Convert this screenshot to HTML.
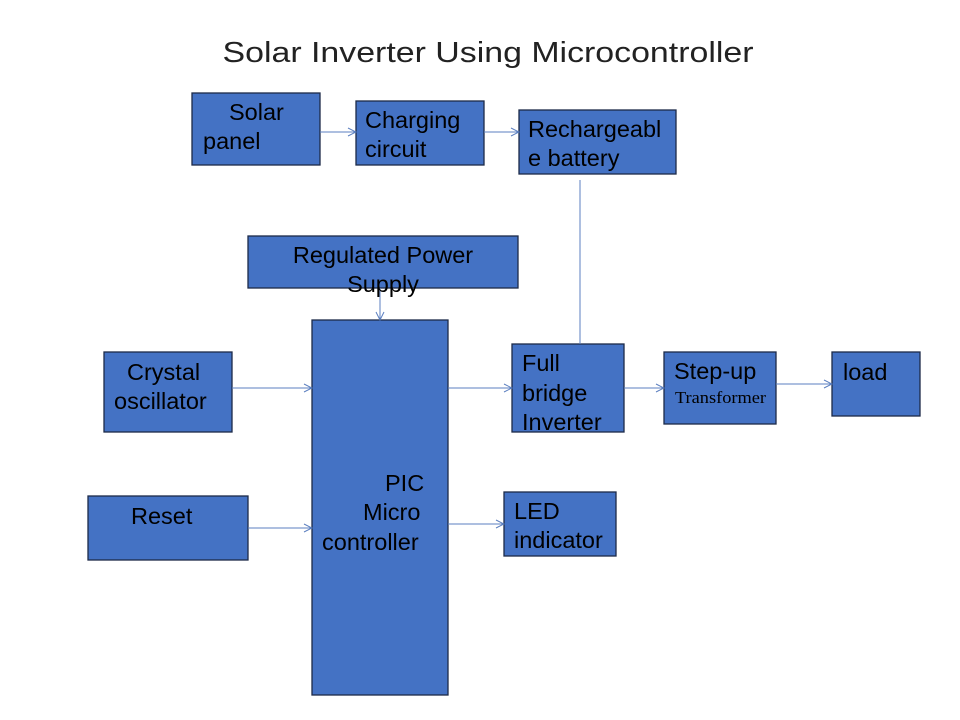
<!DOCTYPE html>
<html><head><meta charset="utf-8"><style>
html,body{margin:0;padding:0;background:#fff}
svg{display:block}
text{font-family:"Liberation Sans",sans-serif;font-size:23.5px;fill:#000}
</style></head><body>
<svg width="960" height="720" viewBox="0 0 960 720" xmlns="http://www.w3.org/2000/svg">
<defs><marker id="a" markerWidth="10" markerHeight="10" refX="9" refY="5" orient="auto" markerUnits="userSpaceOnUse">
<path d="M1,1 L9,5 L1,9" fill="none" stroke="#5b7fc0" stroke-width="1"/></marker></defs>
<text x="488" y="62" text-anchor="middle" style="font-size:29px;fill:#222" textLength="531" lengthAdjust="spacingAndGlyphs">Solar Inverter Using Microcontroller</text>
<g fill="#4472C4" stroke="#1c2a48" stroke-width="1.3">
<rect x="192" y="93" width="128" height="72"/>
<rect x="356" y="101" width="128" height="64"/>
<rect x="519" y="110" width="157" height="64"/>
<rect x="248" y="236" width="270" height="52"/>
<rect x="312" y="320" width="136" height="375"/>
<rect x="104" y="352" width="128" height="80"/>
<rect x="88" y="496" width="160" height="64"/>
<rect x="512" y="344" width="112" height="88"/>
<rect x="664" y="352" width="112" height="72"/>
<rect x="832" y="352" width="88" height="64"/>
<rect x="504" y="492" width="112" height="64"/>
</g>
<g stroke="#5b7fc0" stroke-width="1" fill="none">
<line x1="320" y1="132" x2="356" y2="132" marker-end="url(#a)"/>
<line x1="484" y1="132" x2="519" y2="132" marker-end="url(#a)"/>
<line x1="580" y1="180" x2="580" y2="344"/>
<line x1="380" y1="288" x2="380" y2="320" marker-end="url(#a)"/>
<line x1="232" y1="388" x2="312" y2="388" marker-end="url(#a)"/>
<line x1="248" y1="528" x2="312" y2="528" marker-end="url(#a)"/>
<line x1="448" y1="388" x2="512" y2="388" marker-end="url(#a)"/>
<line x1="624" y1="388" x2="664" y2="388" marker-end="url(#a)"/>
<line x1="776" y1="384" x2="832" y2="384" marker-end="url(#a)"/>
<line x1="448" y1="524" x2="504" y2="524" marker-end="url(#a)"/>
</g>
<text x="229" y="120">Solar</text><text x="203" y="149">panel</text>
<text x="365" y="128">Charging</text><text x="365" y="157">circuit</text>
<text x="528" y="137">Rechargeabl</text><text x="528" y="166">e battery</text>
<text x="383" y="263" text-anchor="middle">Regulated Power</text><text x="383" y="292" text-anchor="middle">Supply</text>
<text x="385" y="491">PIC</text><text x="363" y="520">Micro</text><text x="322" y="550">controller</text>
<text x="127" y="380">Crystal</text><text x="114" y="409">oscillator</text>
<text x="131" y="524">Reset</text>
<text x="522" y="371">Full</text><text x="522" y="401">bridge</text><text x="522" y="430">Inverter</text>
<text x="674" y="379">Step-up</text>
<text x="675" y="403" style="font-family:'Liberation Serif',serif;font-size:17px" textLength="91" lengthAdjust="spacingAndGlyphs">Transformer</text>
<text x="843" y="380">load</text>
<text x="514" y="519">LED</text><text x="514" y="548">indicator</text>
</svg>
</body></html>
